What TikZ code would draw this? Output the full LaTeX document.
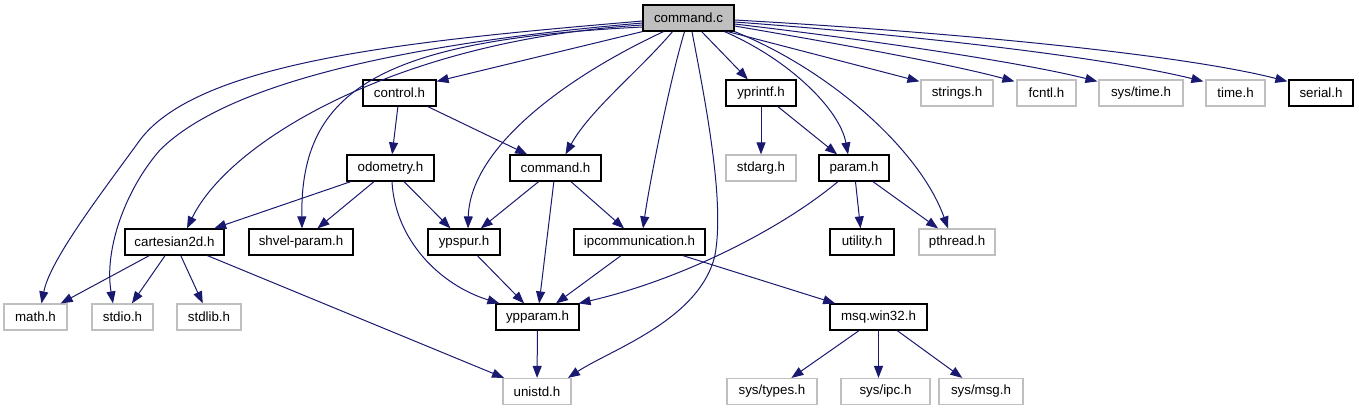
\documentclass[tikz,border=0pt]{standalone}
\usepackage{fontspec}
\setmainfont{Liberation Sans}
\usetikzlibrary{arrows.meta}
\definecolor{edgec}{HTML}{191970}
\definecolor{lgray}{HTML}{BFBFBF}
\tikzset{
  box/.style={rectangle, inner sep=0pt, minimum height=19.5pt, font=\fontsize{10pt}{12pt}\selectfont, text=black, fill=white},
  doc/.style={box, draw=black, line width=0.9pt},
  ext/.style={box, draw=lgray, line width=0.9pt},
  cur/.style={box, draw=black, line width=0.9pt, fill=lgray},
  e/.style={draw=edgec, line width=0.75pt, -{Triangle[length=9pt,width=6.75pt]}}
}
\begin{document}
\begin{tikzpicture}[x=0.75pt,y=-0.75pt]
\useasboundingbox (0,0) rectangle (1359,411);
% row 0
\node[cur, minimum width=68.25pt] (cc) at (688.5,18) {command.c};
% row 1
\node[doc, minimum width=54.75pt] (control) at (399.5,93) {control.h};
\node[doc, minimum width=52.5pt] (yprintf) at (761,93) {yprintf.h};
\node[ext, minimum width=54pt] (strings) at (957,93) {strings.h};
\node[ext, minimum width=44.25pt] (fcntl) at (1046.5,93) {fcntl.h};
\node[ext, minimum width=63pt] (systime) at (1141,93) {sys/time.h};
\node[ext, minimum width=44.25pt] (timeh) at (1235.5,93) {time.h};
\node[doc, minimum width=48pt] (serial) at (1321,93) {serial.h};
% row 2
\node[doc, minimum width=65.25pt] (odometry) at (390.5,168) {odometry.h};
\node[doc, minimum width=68.25pt] (commandh) at (555.5,168) {command.h};
\node[ext, minimum width=52.5pt] (stdarg) at (761,168) {stdarg.h};
\node[doc, minimum width=52.5pt] (param) at (854,168) {param.h};
% row 3
\node[doc, minimum width=74.25pt] (cart) at (174.5,242) {cartesian2d.h};
\node[doc, minimum width=78pt] (shvel) at (301,242) {shvel-param.h};
\node[doc, minimum width=54pt] (ypspur) at (464,242) {ypspur.h};
\node[doc, minimum width=98.25pt] (ipc) at (639.5,242) {ipcommunication.h};
\node[doc, minimum width=48pt] (utility) at (862,242) {utility.h};
\node[ext, minimum width=57pt] (pthread) at (957,242) {pthread.h};
% row 4
\node[ext, minimum width=47.25pt] (math) at (35.5,317) {math.h};
\node[ext, minimum width=45.75pt] (stdio) at (122.5,317) {stdio.h};
\node[ext, minimum width=48pt] (stdlib) at (209,317) {stdlib.h};
\node[doc, minimum width=62.25pt] (ypparam) at (537.5,317) {ypparam.h};
\node[doc, minimum width=72.75pt] (msq) at (878.5,317) {msq.win32.h};
% row 5
\node[ext, minimum width=51pt] (unistd) at (537,391.5) {unistd.h};
\node[ext, minimum width=67.5pt] (systypes) at (772,391.5) {sys/types.h};
\node[ext, minimum width=66.75pt] (sysipc) at (885.5,391.5) {sys/ipc.h};
\node[ext, minimum width=63pt] (sysmsg) at (981,391.5) {sys/msg.h};

% edges from command.c (left side)
\draw[e] ([shift={(0,3)}]cc.west) .. controls (420,40) and (200,60) .. (140,140)
   .. controls (100,195) and (50,260) .. ([shift={(6,0)}]math.north);
\draw[e] ([shift={(0,5)}]cc.west) .. controls (420,42) and (230,80) .. (160,150)
   .. controls (125,190) and (104,250) .. ([shift={(-9.5,0)}]stdio.north);
\draw[e] ([shift={(0,7)}]cc.west) .. controls (400,40) and (230,140) .. ([shift={(12.5,0)}]cart.north);
\draw[e] ([shift={(0,9)}]cc.west) .. controls (380,40) and (300,90) .. ([shift={(1,0)}]shvel.north);
\draw[e] (cc.south west) -- ([shift={(0,2)}]control.north east);
% bottom side
\draw[e] ([shift={(-25,0)}]cc.south) .. controls (560,80) and (470,150) .. ([shift={(4,0)}]ypspur.north);
\draw[e] ([shift={(-16,0)}]cc.south) .. controls (640,70) and (590,110) .. ([shift={(10,0)}]commandh.north);
\draw[e] ([shift={(-4,0)}]cc.south) .. controls (670,80) and (650,180) .. ([shift={(3.5,0)}]ipc.north);
\draw[e] ([shift={(3.5,0)}]cc.south) .. controls (705,100) and (725,200) .. (715,255)
   .. controls (700,320) and (610,350) .. ([shift={(31,0)}]unistd.north);
\draw[e] (cc) -- (yprintf);
\draw[e] ([shift={(36,0)}]cc.south) .. controls (790,60) and (840,110) .. ([shift={(-6,0)}]param.north);
\draw[e] (cc.south east) .. controls (830,70) and (920,150) .. ([shift={(-9,0)}]pthread.north);
\draw[e] ([shift={(-7,0)}]cc.south east) -- ([shift={(-1,2)}]strings.north west);
% right side
\draw[e] ([shift={(0,8)}]cc.east) .. controls (840,44) and (950,64) .. ([shift={(-2,2)}]fcntl.north west);
\draw[e] ([shift={(0,6)}]cc.east) .. controls (870,40) and (1020,62) .. ([shift={(-1,2)}]systime.north west);
\draw[e] ([shift={(0,4)}]cc.east) .. controls (900,34) and (1100,56) .. ([shift={(-2,2)}]timeh.north west);
\draw[e] ([shift={(0,2)}]cc.east) .. controls (950,32) and (1180,54) .. ([shift={(-1,2)}]serial.north west);

% second level
\draw[e] (control) -- (odometry);
\draw[e] (control) -- (commandh);
\draw[e] (odometry) -- (cart);
\draw[e] (odometry) -- (shvel);
\draw[e] (odometry) -- (ypspur);
\draw[e] ([shift={(1.5,0)}]odometry.south) .. controls (395,240) and (440,285) .. ([shift={(4,0)}]ypparam.north west);
\draw[e] (commandh) -- (ypspur);
\draw[e] (commandh) -- (ypparam);
\draw[e] (commandh) -- (ipc);
\draw[e] (yprintf) -- (stdarg);
\draw[e] (yprintf) -- (param);
\draw[e] (param) -- (utility);
\draw[e] (param) -- (pthread);
\draw[e] ([shift={(-16,0)}]param.south) .. controls (780,230) and (680,280) .. ([shift={(-1,0)}]ypparam.north east);
\draw[e] (cart) -- (math);
\draw[e] (cart) -- (stdio);
\draw[e] (cart) -- (stdlib);
\draw[e] (cart) -- (unistd);
\draw[e] (ypspur) -- (ypparam);
\draw[e] (ipc) -- (ypparam);
\draw[e] (ipc) -- (msq);
\draw[e] (ypparam) -- (unistd);
\draw[e] (msq) -- (systypes);
\draw[e] (msq.south) -- (msq.south |- sysipc.north);
\draw[e] (msq) -- (sysmsg);
\end{tikzpicture}
\end{document}
